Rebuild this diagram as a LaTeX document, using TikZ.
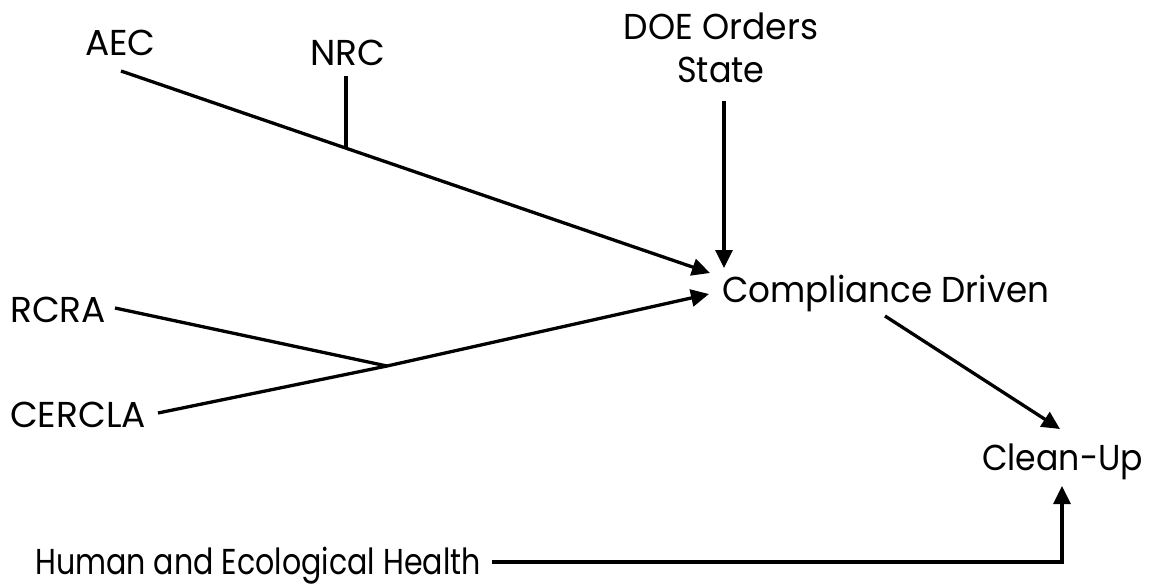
\documentclass[tikz,border=0pt]{standalone}
\usepackage{fontspec}
\setmainfont{Poppins}
\usetikzlibrary{arrows.meta}
\newcommand{\hsq}[2]{\scalebox{#1}[1]{#2}}
\begin{document}
\begin{tikzpicture}[x=1pt,y=-1pt,
  lbl/.style={inner sep=0pt,anchor=base west,font=\fontsize{36}{43}\selectfont},
  conn/.style={line width=3.3pt},
  arr/.style={conn,-{Triangle[length=18pt,width=17pt]}}]
\useasboundingbox (0,0) rectangle (1149,587);
\node[lbl] (aec) at (85,55) {AEC};
\node[lbl] (nrc) at (310,65) {NRC};
\node[inner sep=0pt,anchor=south,align=center,font=\fontsize{36}{43}\selectfont] (doe) at (721,83) {\hsq{0.96}{DOE Orders}\\\hsq{0.93}{State}};
\node[lbl] (comp) at (722,302) {\hsq{0.95}{Compliance Driven}};
\node[lbl] (rcra) at (10,322) {RCRA};
\node[lbl] (cercla) at (10,427) {CERCLA};
\node[lbl] (clean) at (982,470) {\hsq{0.92}{Clean-Up}};
\node[lbl] (human) at (35,574) {\hsq{0.836}{Human and Ecological Health}};
% connector end points
\coordinate (aecS) at (121,71);
\coordinate (nrcS) at (346,76);
\coordinate (nrcJ) at (346,148);
\coordinate (doeS) at (724,101);
\coordinate (compT1) at (710,273);
\coordinate (compV) at (724,268);
\coordinate (compT2) at (709,294);
\coordinate (compS) at (885,316);
\coordinate (rcraE) at (115,308);
\coordinate (cerclaE) at (158,413);
\coordinate (junc) at (387,366);
\coordinate (cleanN) at (1060,429);
\coordinate (humanE) at (492,562);
\coordinate (cleanS) at (1062,486);
\draw[arr] (aecS) -- (compT1);
\draw[conn] (nrcS) -- (nrcJ);
\draw[arr] (doeS) -- (compV);
\draw[conn] (rcraE) -- (junc);
\draw[arr] (cerclaE) -- (junc) -- (compT2);
\draw[arr] (compS) -- (cleanN);
\draw[arr] (humanE) -| (cleanS);
\end{tikzpicture}
\end{document}
